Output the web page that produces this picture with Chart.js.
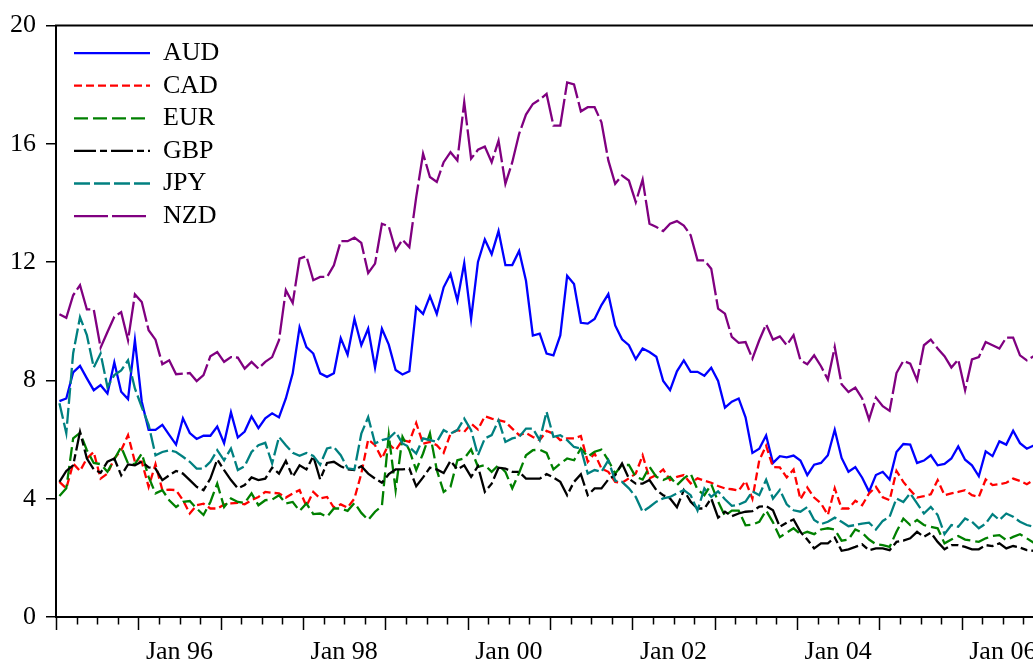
<!DOCTYPE html>
<html>
<head>
<meta charset="utf-8">
<title>Exchange rate volatility</title>
<script src="https://cdn.jsdelivr.net/npm/chart.js@4.4.1/dist/chart.umd.min.js"></script>
<style>
  html, body { margin: 0; padding: 0; background: #fff; overflow: hidden; }
  .wrap { position: relative; width: 1060px; height: 664px; }
</style>
</head>
<body>
<div class="wrap"><canvas id="fxChart"></canvas></div>
<script>
// ========================
// DATA (monthly, Jan 95 onwards)
// ========================
const startYear = 1995;
const totalMonths = 144;
const tickYears = [1996, 1998, 2000, 2002, 2004, 2006];
const tickLabels = ['Jan 96', 'Jan 98', 'Jan 00', 'Jan 02', 'Jan 04', 'Jan 06'];
const yTicks = [0, 4, 8, 12, 16, 20];

const seriesNames = ['AUD', 'CAD', 'EUR', 'GBP', 'JPY', 'NZD'];

const aud = [7.30,7.39,8.27,8.49,8.07,7.67,7.84,7.56,8.61,7.62,
  7.37,9.36,7.28,6.33,6.33,6.50,6.16,5.83,6.72,6.22,
  6.02,6.13,6.13,6.44,5.88,6.92,6.07,6.27,6.78,6.39,
  6.72,6.89,6.75,7.39,8.24,9.80,9.13,8.91,8.24,8.12,
  8.24,9.43,8.87,10.08,9.19,9.75,8.43,9.75,9.21,8.35,
  8.20,8.31,10.48,10.25,10.85,10.25,11.15,11.60,10.70,11.97,
  10.08,12.01,12.77,12.27,13.05,11.90,11.90,12.38,11.37,9.52,
  9.58,8.91,8.85,9.52,11.54,11.26,9.95,9.92,10.08,10.55,
  10.92,9.86,9.39,9.19,8.72,9.08,8.96,8.80,7.98,7.67,
  8.31,8.68,8.29,8.29,8.16,8.43,7.98,7.08,7.28,7.39,
  6.75,5.55,5.69,6.14,5.21,5.44,5.40,5.46,5.29,4.80,
  5.15,5.21,5.47,6.33,5.38,4.91,5.07,4.71,4.24,4.80,
  4.91,4.65,5.58,5.85,5.83,5.21,5.29,5.47,5.13,5.18,
  5.36,5.77,5.32,5.13,4.76,5.60,5.44,5.94,5.83,6.30,
  5.88,5.69,5.80];

const cad = [4.57,4.35,5.19,4.94,5.36,5.58,4.68,4.85,5.36,5.64,
  6.15,5.25,5.25,4.40,5.17,4.29,4.31,4.29,3.95,3.50,
  3.78,3.83,3.67,3.67,3.80,3.84,3.86,3.81,3.95,4.06,
  4.23,4.20,4.18,4.04,4.18,4.29,3.75,4.23,4.01,4.06,
  3.70,3.81,3.70,4.01,4.85,6.00,5.81,5.36,5.85,5.64,
  5.98,5.92,6.56,5.86,5.92,5.81,5.55,6.20,6.32,6.26,
  6.54,6.34,6.79,6.71,6.66,6.60,6.37,6.15,6.22,6.09,
  5.98,6.29,6.20,5.98,6.04,6.04,6.12,5.25,5.53,5.02,
  4.91,4.57,4.54,4.69,4.85,5.47,4.69,4.80,4.99,4.63,
  4.74,4.80,4.52,4.69,4.61,4.54,4.43,4.35,4.32,4.27,
  4.60,4.00,5.30,5.79,5.07,5.06,4.72,4.99,3.98,4.38,
  4.04,3.84,3.45,4.35,3.67,3.67,3.93,3.78,4.18,4.40,
  4.05,3.95,4.94,4.57,4.29,4.04,4.09,4.15,4.63,4.12,
  4.18,4.23,4.29,4.12,4.06,4.65,4.46,4.49,4.54,4.68,
  4.60,4.49,4.63];

const eur = [4.09,4.35,6.04,6.23,5.64,5.21,5.17,4.91,5.33,5.75,
  5.19,5.17,5.53,4.74,4.18,4.29,3.95,3.72,3.89,3.92,
  3.67,3.45,3.89,4.51,3.72,4.01,3.89,3.86,4.18,3.78,
  3.95,3.97,4.12,3.84,3.89,3.59,3.84,3.48,3.50,3.39,
  3.67,3.67,3.59,3.86,3.52,3.28,3.56,3.75,6.15,4.29,
  6.09,5.64,4.97,5.53,6.21,4.97,4.23,4.40,5.30,5.36,
  5.67,5.08,5.14,4.91,5.14,4.91,4.35,4.88,5.47,5.64,
  5.66,5.55,4.99,5.19,5.36,5.30,5.70,5.42,5.59,5.66,
  5.30,4.85,5.14,5.14,4.74,4.65,5.08,4.74,4.63,4.74,
  4.46,4.69,4.85,4.31,4.12,4.49,3.90,3.42,3.60,3.60,
  3.10,3.12,3.22,3.60,3.20,2.70,2.85,3.00,2.80,2.88,
  2.80,2.96,3.00,2.96,2.58,2.62,2.96,2.85,2.62,2.46,
  2.43,2.37,2.88,3.33,3.11,3.28,3.11,3.05,3.00,2.49,
  2.62,2.74,2.62,2.58,2.54,2.66,2.74,2.77,2.60,2.71,
  2.80,2.66,2.51];

const gbp = [4.57,4.94,5.13,6.26,5.36,4.99,4.88,5.25,5.36,4.79,
  5.16,5.13,5.25,5.06,5.02,4.63,4.79,4.94,4.85,4.63,
  4.40,4.29,4.68,5.33,4.97,4.63,4.35,4.46,4.72,4.63,
  4.68,5.05,4.85,5.28,4.74,5.13,4.99,5.44,4.65,5.21,
  5.25,5.10,4.99,4.97,5.10,4.85,4.68,4.54,4.83,4.99,
  4.99,5.02,4.42,4.72,5.05,4.99,4.87,5.28,4.99,5.13,
  4.74,5.10,4.23,4.51,5.05,5.02,4.91,4.91,4.68,4.68,
  4.68,4.83,4.72,4.57,4.12,4.57,4.83,4.12,4.35,4.35,
  4.65,4.80,5.19,4.68,4.51,4.51,4.63,4.29,4.12,4.01,
  3.71,4.29,3.90,3.67,3.67,4.01,3.36,3.56,3.41,3.50,
  3.56,3.58,3.73,3.75,3.61,3.05,3.19,3.30,2.88,2.62,
  2.32,2.49,2.49,2.69,2.24,2.29,2.37,2.46,2.26,2.32,
  2.32,2.26,2.54,2.58,2.66,2.88,2.71,2.85,2.54,2.29,
  2.43,2.43,2.37,2.29,2.29,2.43,2.40,2.49,2.32,2.40,
  2.35,2.26,2.24];

const jpy = [7.23,6.22,8.92,10.14,9.53,8.44,8.91,7.78,8.18,8.34,
  8.68,7.73,7.10,6.50,5.47,5.58,5.64,5.58,5.42,5.25,
  5.02,5.02,5.25,5.64,5.30,5.70,4.97,5.10,5.58,5.81,
  5.89,5.19,6.09,5.81,5.55,5.45,5.55,5.45,5.15,5.70,
  5.75,5.47,5.03,4.99,6.20,6.76,5.87,5.98,6.04,6.26,
  5.87,5.75,5.53,6.04,5.98,5.92,6.32,6.20,6.32,6.71,
  6.32,5.47,6.04,6.15,6.65,5.92,6.04,6.09,6.37,6.37,
  5.98,6.94,6.09,6.15,5.98,5.75,5.70,4.85,4.97,4.91,
  5.30,4.61,4.57,4.35,4.06,3.56,3.72,3.90,4.01,4.06,
  4.18,4.29,4.12,3.60,4.35,4.06,4.25,3.98,3.76,3.80,
  3.90,4.25,4.12,4.64,4.00,4.30,3.81,3.61,3.56,3.72,
  3.28,3.14,3.22,3.36,3.22,3.07,3.11,3.16,3.19,2.96,
  3.25,3.39,4.01,3.89,4.18,3.84,3.50,3.72,3.45,2.80,
  3.11,3.05,3.33,3.22,3.00,3.16,3.48,3.28,3.50,3.39,
  3.22,3.11,3.05];

const nzd = [10.24,10.12,10.88,11.22,10.40,10.40,9.11,9.64,10.15,10.31,
  9.36,10.91,10.65,9.70,9.38,8.55,8.68,8.21,8.23,8.25,
  7.98,8.18,8.82,8.96,8.63,8.79,8.77,8.40,8.63,8.40,
  8.63,8.79,9.36,11.05,10.62,12.12,12.20,11.39,11.50,11.50,
  11.89,12.71,12.71,12.83,12.65,11.63,11.95,13.30,13.21,12.40,
  12.76,12.51,14.20,15.67,14.88,14.71,15.38,15.72,15.44,17.41,
  15.50,15.80,15.91,15.38,16.11,14.65,15.38,16.34,16.99,17.35,
  17.50,17.69,16.62,16.62,18.08,18.01,17.10,17.24,17.24,16.73,
  15.44,14.65,14.93,14.76,14.03,14.79,13.30,13.19,13.05,13.30,
  13.39,13.24,12.91,12.06,12.06,11.78,10.43,10.26,9.47,9.27,
  9.30,8.74,9.36,9.90,9.38,9.49,9.19,9.53,8.68,8.55,
  8.85,8.48,8.03,9.13,7.87,7.61,7.76,7.39,6.68,7.42,
  7.13,6.97,8.25,8.66,8.57,8.01,9.19,9.38,9.08,8.82,
  8.44,8.71,7.67,8.71,8.79,9.30,9.19,9.08,9.45,9.45,
  8.85,8.68,8.82];

// ========================
// STYLE
// ========================
const seriesColors = ['#0000FF', '#FF0000', '#008000', '#000000', '#008080', '#800080'];
const seriesDash = [[], [8, 4], [14, 5], [22, 4, 7, 4], [16, 4], [34, 4]];
const LINE_W = 2.3;
const FONT = '"Liberation Serif", "Times New Roman", serif';

document.addEventListener('DOMContentLoaded', () => {
  initChart();
});

// month index -> point list
function toPoints(values) {
  return values.map((v, i) => ({ x: i, y: v }));
}

// legend sits inside the plot, nudged to match the original box
const legendNudge = {
  id: 'legendNudge',
  afterLayout(chart) {
    const lg = chart.legend;
    if (!lg) return;
    lg.left = chart.chartArea.left + 11.4;
    lg.top = chart.chartArea.top + 7.9;
  }
};

// top frame + quarter tick marks under the x axis
const frameTicks = {
  id: 'frameTicks',
  afterDraw(chart) {
    const { ctx, chartArea: a, scales: { x } } = chart;
    ctx.save();
    ctx.strokeStyle = '#000';
    ctx.lineWidth = 2;
    ctx.beginPath();
    ctx.moveTo(a.left - 1, a.top);
    ctx.lineTo(a.right, a.top);
    ctx.stroke();

    ctx.lineWidth = 1.5;
    ctx.beginPath();
    for (let q = 0; q <= totalMonths / 3; q++) {
      const px = Math.round(x.getPixelForValue(q * 3 - 0.5)) + 0.5;
      const len = q % 4 === 0 ? 13 : 7.5;
      ctx.moveTo(px, a.bottom);
      ctx.lineTo(px, a.bottom + len);
    }
    ctx.stroke();
    ctx.restore();
  }
};

function initChart() {
  Chart.defaults.font.family = FONT;
  Chart.defaults.font.size = 26;
  Chart.defaults.color = '#000';

  const allSeries = [aud, cad, eur, gbp, jpy, nzd];
  const labelPos = tickYears.map(y => (y - startYear) * 12 + 5.5);

  const datasets = allSeries.map((vals, i) => ({
    label: seriesNames[i],
    data: toPoints(vals),
    borderColor: seriesColors[i],
    backgroundColor: seriesColors[i],
    borderDash: seriesDash[i],
    borderWidth: LINE_W,
    pointRadius: 0,
    pointStyle: 'line',
    tension: 0,
    fill: false,
    order: allSeries.length - i
  }));

  const baseLabels = Chart.defaults.plugins.legend.labels.generateLabels;

  new Chart(document.getElementById('fxChart'), {
    type: 'line',
    data: { datasets },
    plugins: [legendNudge, frameTicks],
    options: {
      responsive: true,
      maintainAspectRatio: false,
      animation: false,
      events: [],
      layout: { padding: { top: 25, right: 16, left: 0, bottom: 0 } },
      plugins: {
        tooltip: { enabled: false },
        legend: {
          position: 'chartArea',
          align: 'start',
          labels: {
            usePointStyle: true,
            pointStyle: 'line',
            pointStyleWidth: 76,
            padding: 6.6,
            color: '#000',
            font: { size: 26, family: FONT },
            sort: (a, b) => a.datasetIndex - b.datasetIndex,
            // keep each series' dash and width in its legend sample
            generateLabels: (chart) => baseLabels(chart).map(item => {
              const ds = chart.data.datasets[item.datasetIndex];
              return Object.assign(item, {
                lineDash: ds.borderDash,
                lineWidth: LINE_W,
                strokeStyle: ds.borderColor
              });
            })
          }
        }
      },
      scales: {
        x: {
          type: 'linear',
          min: -0.5,
          max: totalMonths - 0.5,
          grid: { display: false, drawTicks: false },
          border: { display: true, color: '#000', width: 2 },
          afterBuildTicks: (axis) => {
            axis.ticks = labelPos.map(v => ({ value: v }));
          },
          afterFit: (axis) => { axis.height = 47; },
          ticks: {
            autoSkip: false,
            maxRotation: 0,
            padding: 20,
            color: '#000',
            font: { size: 26, family: FONT },
            callback: (value) => {
              const k = labelPos.indexOf(value);
              return k >= 0 ? tickLabels[k] : '';
            }
          }
        },
        y: {
          min: 0,
          max: 20,
          grid: { drawOnChartArea: false, drawTicks: true, tickLength: 10, color: '#000', lineWidth: 1.5 },
          border: { display: true, color: '#000', width: 2 },
          afterBuildTicks: (axis) => {
            axis.ticks = yTicks.map(v => ({ value: v }));
          },
          afterFit: (axis) => { axis.width = 56; },
          ticks: {
            padding: 10,
            color: '#000',
            font: { size: 26, family: FONT }
          }
        }
      }
    }
  });
}
</script>
</body>
</html>
